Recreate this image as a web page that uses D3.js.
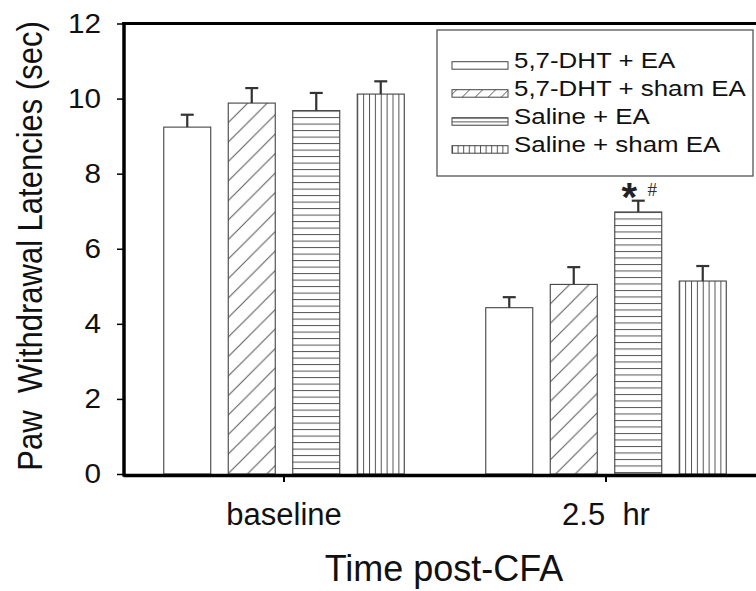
<!DOCTYPE html>
<html>
<head>
<meta charset="utf-8">
<script src="https://cdn.jsdelivr.net/npm/d3@7"></script>
<style>
  body { margin: 0; background: #fff; }
  svg { font-family: "Liberation Sans", Arial, sans-serif; }
</style>
</head>
<body>
<svg class="barchart" width="756" height="591"></svg>
<script>
// data
let groups = ["baseline", "2.5  hr"];
let series = ["5,7-DHT + EA", "5,7-DHT + sham EA", "Saline + EA", "Saline + sham EA"];
let baselineMeans = [9.24, 9.88, 9.68, 10.12];
let baselineSem = [0.33, 0.40, 0.47, 0.34];
let hr25Means = [4.43, 5.05, 6.98, 5.14];
let hr25Sem = [0.28, 0.46, 0.30, 0.40];
let yTicks = [0, 2, 4, 6, 8, 10, 12];
let signif = [{group: "2.5  hr", series: "Saline + EA", star: "*", hash: "#"}];

// rows for the bars
let data = [];
series.forEach(function(s, i) {
  data.push({group: groups[0], series: s, mean: baselineMeans[i], sem: baselineSem[i]});
  data.push({group: groups[1], series: s, mean: hr25Means[i], sem: hr25Sem[i]});
});

let hatch = {};
hatch[series[0]] = "none";
hatch[series[1]] = "diag";
hatch[series[2]] = "horiz";
hatch[series[3]] = "vert";

let svg = d3.select("body").select(".barchart");
let defs = svg.append("defs");

let plotLeft = 124, plotRight = 766, plotTop = 23.5, plotBottom = 474;

let yScale = d3.scaleLinear()
  .domain([0, 12])
  .range([plotBottom, plotTop]);

let groupScale = d3.scaleBand()
  .domain(groups)
  .range([plotLeft - 1, plotRight + 1]);

let seriesScale = d3.scaleBand()
  .domain(series)
  .range([-129, 129])
  .paddingInner(0.2713)
  .paddingOuter(0.1357);

//makes a pattern anchored at x,y so hatch lines line up with each bar
function makePattern(id, kind, x, y, step) {
  let p = defs.append("pattern")
    .attr("id", id)
    .attr("patternUnits", "userSpaceOnUse")
    .attr("x", x)
    .attr("y", y);
  let w = 10, h = 10;
  if (kind == "diag") { w = step; h = step; }
  if (kind == "horiz") { h = step; }
  if (kind == "vert") { w = step; }
  p.attr("width", w).attr("height", h);
  p.append("rect").attr("width", w).attr("height", h).attr("fill", "#fff");
  let d = "";
  if (kind == "diag") {
    d = "M0," + h + "L" + w + ",0M-1,1L1,-1M" + (w - 1) + "," + (h + 1) + "L" + (w + 1) + "," + (h - 1);
  } else if (kind == "horiz") {
    d = "M0,0.5L" + w + ",0.5";
  } else if (kind == "vert") {
    d = "M0.5,0L0.5," + h;
  }
  if (d != "") {
    p.append("path").attr("d", d)
      .attr("stroke", "#555")
      .attr("stroke-width", 1)
      .attr("fill", "none");
  }
  return "url(#" + id + ")";
}

let barStep = {none: 10, diag: 19.5, horiz: 6.5, vert: 5.875};

function barX(d) {
  return groupScale(d.group) + groupScale.bandwidth() / 2 + seriesScale(d.series);
}

let plot = svg.append("g").attr("id", "plot");

// bars
plot.selectAll(".bar")
  .data(data)
  .enter().append("rect")
  .attr("class", "bar")
  .attr("x", barX)
  .attr("y", d => yScale(d.mean))
  .attr("width", seriesScale.bandwidth())
  .attr("height", d => plotBottom - yScale(d.mean))
  .attr("fill", function(d, i) {
    let k = hatch[d.series];
    return makePattern("pat" + i, k, barX(d), yScale(d.mean), barStep[k]);
  })
  .attr("stroke", "#444")
  .attr("stroke-width", 1.1);

// error bars (upper only)
let errs = plot.selectAll(".err")
  .data(data)
  .enter().append("g")
  .attr("class", "err")
  .attr("transform", d => translate(barX(d) + seriesScale.bandwidth() / 2, 0));
errs.append("line")
  .attr("y1", d => yScale(d.mean))
  .attr("y2", d => yScale(d.mean + d.sem))
  .attr("stroke", "#333")
  .attr("stroke-width", 2.2);
errs.append("line")
  .attr("x1", -6.5)
  .attr("x2", 6.5)
  .attr("y1", d => yScale(d.mean + d.sem))
  .attr("y2", d => yScale(d.mean + d.sem))
  .attr("stroke", "#333")
  .attr("stroke-width", 2.2);

// significance marks
signif.forEach(function(m) {
  let row = data.find(d => d.group == m.group && d.series == m.series);
  let cx = barX(row) + seriesScale.bandwidth() / 2;
  let cy = yScale(row.mean + row.sem);
  svg.append("text")
    .attr("x", cx - 9)
    .attr("y", cy + 10)
    .attr("text-anchor", "middle")
    .style("font-size", "40px")
    .style("font-weight", "bold")
    .attr("fill", "#222")
    .text(m.star);
  svg.append("text")
    .attr("x", cx + 14)
    .attr("y", cy - 5)
    .attr("text-anchor", "middle")
    .style("font-family", "'Liberation Serif', serif")
    .style("font-size", "19px")
    .attr("fill", "#333")
    .text(m.hash);
});

// axes
let yAxis = d3.axisLeft(yScale).tickValues(yTicks).tickSize(7).tickSizeOuter(0);
let yGroup = svg.append("g").attr("id", "y-axis")
  .attr("transform", translate(plotLeft, 0))
  .call(yAxis);
yGroup.select(".domain").attr("stroke-width", 3.5).attr("d", "M0," + (plotTop - 1.5) + "V" + (plotBottom + 2.5));
yGroup.selectAll(".tick line").attr("stroke-width", 1.5);
yGroup.selectAll(".tick text")
  .attr("x", 0)
  .attr("transform", "translate(-23,0) scale(1.1,1)")
  .style("font-size", "27px")
  .attr("fill", "#111");

let xAxis = d3.axisBottom(groupScale).tickSize(7).tickSizeOuter(0);
let xGroup = svg.append("g").attr("id", "x-axis")
  .attr("transform", translate(0, plotBottom + 1))
  .call(xAxis);
xGroup.select(".domain").attr("stroke-width", 3.5);
xGroup.selectAll(".tick line").attr("stroke-width", 2);
xGroup.selectAll(".tick text")
  .attr("y", 50)
  .attr("dy", 0)
  .style("font-size", "31px")
  .style("white-space", "pre")
  .attr("fill", "#111");

// top and right frame lines
svg.append("line")
  .attr("x1", plotLeft - 1.75)
  .attr("x2", plotRight + 2)
  .attr("y1", yScale(12))
  .attr("y2", yScale(12))
  .attr("stroke", "#000")
  .attr("stroke-width", 3);
svg.append("line")
  .attr("x1", plotRight)
  .attr("x2", plotRight)
  .attr("y1", yScale(12))
  .attr("y2", plotBottom + 1)
  .attr("stroke", "#000")
  .attr("stroke-width", 3);

// axis titles
svg.append("text")
  .attr("class", "y-axis-label")
  .attr("transform", "translate(42,246) rotate(-90) scale(1,1.15)")
  .attr("text-anchor", "middle")
  .style("font-size", "31px")
  .style("white-space", "pre")
  .attr("fill", "#111")
  .text("Paw  Withdrawal Latencies (sec)");

svg.append("text")
  .attr("class", "x-axis-label")
  .attr("x", 444)
  .attr("y", 581)
  .attr("text-anchor", "middle")
  .style("font-size", "36px")
  .attr("fill", "#111")
  .text("Time post-CFA");

// legend
let legend = svg.append("g").attr("class", "legend");
legend.append("rect")
  .attr("x", 437)
  .attr("y", 30)
  .attr("width", 316)
  .attr("height", 146)
  .attr("fill", "#fff")
  .attr("stroke", "#555")
  .attr("stroke-width", 1.3);

let legendStep = {none: 10, diag: 13, horiz: 3.75, vert: 5.6};
let items = legend.selectAll(".item")
  .data(series)
  .enter().append("g")
  .attr("class", "item")
  .attr("transform", (d, i) => translate(0, 67.7 + i * 28));
items.append("rect")
  .attr("x", 452)
  .attr("y", -6)
  .attr("width", 56)
  .attr("height", 7.5)
  .attr("fill", function(d, i) {
    let k = hatch[d];
    return makePattern("leg" + i, k, 452, 67.7 + i * 28 - 6, legendStep[k]);
  })
  .attr("stroke", "#444")
  .attr("stroke-width", 1);
items.append("text")
  .attr("transform", "translate(514,0) scale(1.15,1)")
  .style("font-size", "22.5px")
  .attr("fill", "#111")
  .text(d => d);

function translate(x, y) {
  return 'translate(' + x + ',' + y + ')';
}
</script>
</body>
</html>
